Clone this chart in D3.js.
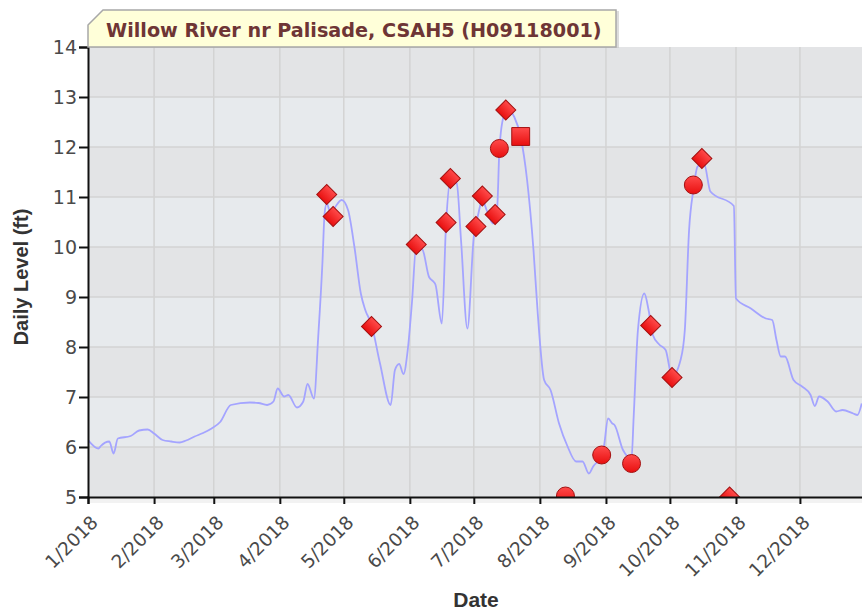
<!DOCTYPE html>
<html>
<head>
<meta charset="utf-8">
<script src="https://cdn.jsdelivr.net/npm/d3@7"></script>
<style>
	body { margin: 0; background: #fff; }
	svg { display: block; }
</style>
</head>
<body>
<svg id="visual" width="862" height="613"></svg>
<script>
// daily level readings
var levelDates = [
	"2018-01-01","2018-01-06","2018-01-07","2018-01-11","2018-01-13","2018-01-15","2018-01-21","2018-01-25","2018-01-29",
	"2018-02-01","2018-02-05","2018-02-09","2018-02-13","2018-02-16","2018-02-20","2018-02-24","2018-02-28",
	"2018-03-04","2018-03-09","2018-03-18","2018-03-22","2018-03-26","2018-03-29","2018-03-31",
	"2018-04-03","2018-04-05","2018-04-09","2018-04-12","2018-04-14","2018-04-17","2018-04-19","2018-04-21","2018-04-22",
	"2018-04-23","2018-04-25","2018-04-27","2018-04-30",
	"2018-05-03","2018-05-06","2018-05-09","2018-05-11","2018-05-14","2018-05-18","2018-05-23","2018-05-25","2018-05-27",
	"2018-05-29","2018-05-31",
	"2018-06-02","2018-06-04","2018-06-07","2018-06-10","2018-06-12","2018-06-13","2018-06-16","2018-06-18","2018-06-20",
	"2018-06-23","2018-06-25","2018-06-28",
	"2018-07-01","2018-07-03","2018-07-05","2018-07-07","2018-07-10","2018-07-12","2018-07-13","2018-07-15","2018-07-17",
	"2018-07-20","2018-07-23","2018-07-26","2018-07-29","2018-07-31",
	"2018-08-03","2018-08-06","2018-08-10","2018-08-14","2018-08-18","2018-08-21","2018-08-24","2018-08-26","2018-08-30","2018-08-31",
	"2018-09-02","2018-09-04","2018-09-05","2018-09-09","2018-09-13","2018-09-14","2018-09-16","2018-09-19","2018-09-21",
	"2018-09-23","2018-09-26","2018-09-29",
	"2018-10-02","2018-10-06","2018-10-08","2018-10-10","2018-10-12","2018-10-14","2018-10-17","2018-10-20","2018-10-31",
	"2018-11-01","2018-11-08","2018-11-15","2018-11-18","2018-11-20","2018-11-22","2018-11-24","2018-11-28",
	"2018-12-02","2018-12-06","2018-12-08","2018-12-10","2018-12-14","2018-12-18","2018-12-21","2018-12-26","2018-12-28","2018-12-30"
];
var levelValues = [
	6.14,5.97,6.02,6.11,5.87,6.17,6.22,6.33,6.35,
	6.27,6.14,6.11,6.09,6.13,6.21,6.28,6.37,
	6.5,6.84,6.89,6.88,6.84,6.91,7.17,
	7.01,7.04,6.79,6.91,7.26,6.97,8.2,9.7,10.67,
	10.87,10.65,10.8,10.94,
	10.74,10.0,9.07,8.75,8.45,7.67,6.84,7.54,7.66,
	7.46,7.94,
	8.9,10.02,9.94,9.4,9.31,9.25,8.47,10.47,11.34,
	11.27,10.14,8.37,
	10.21,10.64,10.94,10.74,10.47,10.81,11.94,12.61,12.74,
	12.6,12.2,11.34,9.94,8.67,
	7.34,7.14,6.47,6.01,5.71,5.71,5.47,5.61,5.84,6.0,
	6.57,6.47,6.44,5.94,5.77,6.6,8.34,9.07,8.74,
	8.24,8.05,7.94,
	7.41,7.74,8.34,10.34,11.14,11.61,11.67,11.11,10.82,
	8.97,8.77,8.57,8.54,8.14,7.81,7.81,7.34,
	7.21,7.04,6.82,7.01,6.91,6.71,6.74,6.67,6.64,6.87
];

// field measurements
var markerDates = [
	"2018-04-23","2018-04-26","2018-05-14","2018-06-04","2018-06-18","2018-06-20","2018-07-02","2018-07-05",
	"2018-07-11","2018-07-13","2018-07-16","2018-07-23","2018-08-13","2018-08-30","2018-09-13","2018-09-22",
	"2018-10-02","2018-10-12","2018-10-16","2018-10-29"
];
var markerValues = [
	11.05,10.61,8.41,10.05,10.49,11.37,10.41,11.02,
	10.65,11.97,12.74,12.21,5.02,5.84,5.67,8.43,
	7.39,11.24,11.77,5.0
];
var markerShapes = [
	"diamond","diamond","diamond","diamond","diamond","diamond","diamond","diamond",
	"diamond","circle","diamond","square","circle","circle","circle","diamond",
	"diamond","circle","diamond","diamond"
];

var yTicks = [5, 6, 7, 8, 9, 10, 11, 12, 13, 14];
var chartTitle = "Willow River nr Palisade, CSAH5 (H09118001)";
var yLabel = "Daily Level (ft)";
var xLabel = "Date";

var parseDate = d3.timeParse("%Y-%m-%d");
var svg = d3.select("#visual");

var plotLeft = 88, plotTop = 47, plotBottom = 497, plotRight = 866;

var x = d3.scaleTime()
	.domain([new Date(2018, 0, 1), new Date(2019, 0, 1)])
	.range([plotLeft, plotRight]);
var y = d3.scaleLinear()
	.domain([5, 14])
	.range([plotBottom, plotTop]);

var defs = svg.append("defs");
defs.append("clipPath")
	.attr("id", "clip")
	.append("rect")
	.attr("x", plotLeft)
	.attr("y", plotTop)
	.attr("width", plotRight - plotLeft)
	.attr("height", plotBottom - plotTop);
var grad = defs.append("linearGradient")
	.attr("id", "redFill")
	.attr("x1", 0).attr("y1", 0).attr("x2", 0).attr("y2", 1);
grad.append("stop").attr("offset", "0%").attr("stop-color", "#ff4b4b");
grad.append("stop").attr("offset", "100%").attr("stop-color", "#e80f0f");

// shadow under the plot, then alternating bands
svg.append("rect")
	.attr("x", plotLeft).attr("y", plotBottom + 1)
	.attr("width", plotRight - plotLeft).attr("height", 5)
	.style("fill", "#f2f2f2");
svg.append("g")
	.selectAll("rect")
	.data(d3.range(5, 14))
	.enter()
	.append("rect")
	.attr("x", plotLeft)
	.attr("y", function(d) { return y(d + 1); })
	.attr("width", plotRight - plotLeft)
	.attr("height", function(d) { return y(d) - y(d + 1); })
	.style("fill", function(d) { return (d % 2 == 1) ? "#e3e4e6" : "#e7eaed"; });

// grid
var months = d3.timeMonth.range(new Date(2018, 0, 1), new Date(2019, 0, 1));
svg.append("g")
	.selectAll("line")
	.data(months.slice(1))
	.enter()
	.append("line")
	.attr("x1", function(d) { return x(d); })
	.attr("x2", function(d) { return x(d); })
	.attr("y1", plotTop)
	.attr("y2", plotBottom)
	.style("stroke", "#d3d3d3")
	.style("stroke-width", 1.5);
svg.append("g")
	.selectAll("line")
	.data(yTicks.slice(1, -1))
	.enter()
	.append("line")
	.attr("x1", plotLeft)
	.attr("x2", plotRight)
	.attr("y1", function(d) { return y(d); })
	.attr("y2", function(d) { return y(d); })
	.style("stroke", "#d3d3d3")
	.style("stroke-width", 1.5);

// level line
var plot = svg.append("g").attr("clip-path", "url(#clip)");
var line = d3.line()
	.x(function(d, i) { return x(parseDate(levelDates[i])); })
	.y(function(d) { return y(d); })
	.curve(d3.curveMonotoneX);
plot.append("path")
	.datum(levelValues)
	.attr("d", line)
	.style("fill", "none")
	.style("stroke", "#a4a4ff")
	.style("stroke-width", 1.8);

// measurement markers
var symbols = {
	diamond: d3.symbol().type(d3.symbolSquare).size(200),
	circle: d3.symbol().type(d3.symbolCircle).size(254),
	square: d3.symbol().type(d3.symbolSquare).size(320)
};
plot.selectAll(".marker")
	.data(markerValues)
	.enter()
	.append("path")
	.attr("class", "marker")
	.attr("d", function(d, i) { return symbols[markerShapes[i]](); })
	.attr("transform", function(d, i) {
		var t = "translate(" + x(parseDate(markerDates[i])) + "," + y(d) + ")";
		return markerShapes[i] == "diamond" ? t + " rotate(45)" : t;
	})
	.style("fill", "url(#redFill)")
	.style("stroke", "#a31010")
	.style("stroke-width", 1);

// axes
var yAxis = svg.append("g")
	.attr("transform", "translate(" + plotLeft + ",0)")
	.call(d3.axisLeft(y).tickValues(yTicks).tickSize(9).tickPadding(2).tickFormat(d3.format("d")));
var xAxis = svg.append("g")
	.attr("transform", "translate(0," + plotBottom + ")")
	.call(d3.axisBottom(x).tickValues(months).tickSize(7).tickFormat(d3.timeFormat("%-m/%Y")));
[yAxis, xAxis].forEach(function(a) {
	a.select(".domain").style("stroke", "#111").style("stroke-width", 2);
	a.selectAll(".tick line").style("stroke", "#111").style("stroke-width", 2);
	a.selectAll("text")
		.style("font-family", "'DejaVu Sans', Verdana, sans-serif")
		.style("fill", "#4a4a4a");
});
yAxis.selectAll("text").style("font-size", "19px").attr("dy", "0.36em");
xAxis.selectAll("text")
	.style("font-size", "18.5px")
	.style("text-anchor", "end")
	.attr("y", 0)
	.attr("dy", "0.35em")
	.attr("transform", "translate(6,22) rotate(-45)");

// axis titles
svg.append("text")
	.attr("transform", "translate(28,277) rotate(-90)")
	.style("text-anchor", "middle")
	.style("font-family", "'Liberation Sans', Arial, sans-serif")
	.style("font-weight", "bold")
	.style("font-size", "20px")
	.style("fill", "#333")
	.text(yLabel);
svg.append("text")
	.attr("x", 476)
	.attr("y", 607)
	.style("text-anchor", "middle")
	.style("font-family", "'Liberation Sans', Arial, sans-serif")
	.style("font-weight", "bold")
	.style("font-size", "21px")
	.style("fill", "#333")
	.text(xLabel);

// title tab
var tab = "M88,25 L103,10 L616,10 L616,47 L88,47 Z";
svg.append("path")
	.attr("d", tab)
	.attr("transform", "translate(3,1)")
	.style("fill", "#c4c4c4")
	.style("opacity", 0.6);
svg.append("path")
	.attr("d", tab)
	.style("fill", "#ffffd9")
	.style("stroke", "#a8a8a8")
	.style("stroke-width", 1.5);
svg.append("text")
	.attr("x", 106)
	.attr("y", 37)
	.style("font-family", "'DejaVu Sans', Verdana, sans-serif")
	.style("font-weight", "bold")
	.style("font-size", "19.2px")
	.style("fill", "#6e3535")
	.text(chartTitle);
</script>
</body>
</html>
